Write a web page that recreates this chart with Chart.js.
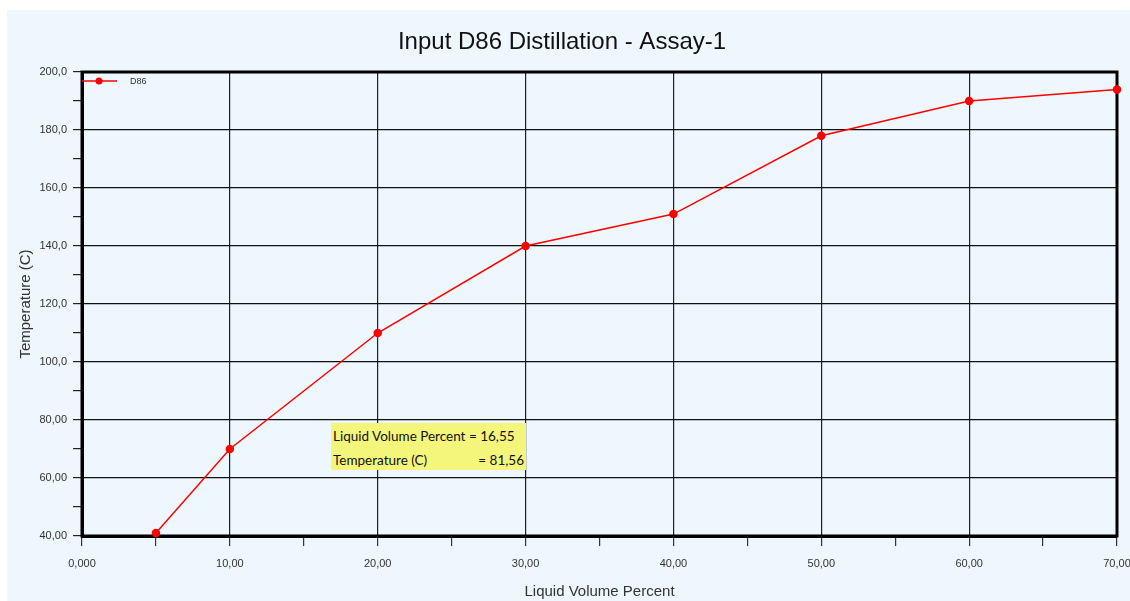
<!DOCTYPE html>
<html>
<head>
<meta charset="utf-8">
<script src="https://cdn.jsdelivr.net/npm/chart.js@4"></script>
<style>
  html, body { margin: 0; padding: 0; background: #ffffff; overflow: hidden; }
  #wrap { position: absolute; left: 7px; top: 10px; width: 1135px; height: 591px; background: #eef6fe; }
  #note {
    position: absolute; left: 331px; top: 423px; width: 195px; height: 47px;
    background: #f4f67c; font-family: Lato, sans-serif; font-size: 13.5px; color: #111;
    box-sizing: border-box; padding: 1px 2px 0 2px; line-height: 24px;
  }
  #note div { display: flex; justify-content: space-between; }
</style>
</head>
<body>
<div id="wrap"><canvas id="chart" width="1135" height="591"></canvas></div>
<div id="note">
  <div><span>Liquid Volume Percent = 16,55</span></div>
  <div><span>Temperature (C)</span><span>= 81,56</span></div>
</div>
<script>
// donnees
const volumePercent = [5, 10, 20, 30, 40, 50, 60, 70];
const temperature = [41, 70, 110, 140, 151, 178, 190, 194];
const xRange = [0, 70];
const yRange = [40, 200];

// format "200,0" / "80,00" / "0,000"
function fmt(v) {
    return Number(v).toPrecision(4).replace(".", ",");
}

// cadre haut/droite du graphique
const frame = {
    id: "frame",
    beforeDatasetsDraw(chart) {
        const a = chart.chartArea, ctx = chart.ctx;
        ctx.save();
        ctx.strokeStyle = "#000";
        ctx.lineWidth = 3;
        ctx.strokeRect(a.left, a.top, a.right - a.left, a.bottom - a.top);
        ctx.restore();
    }
};

// legende dans le coin haut gauche
const legendBox = {
    id: "legendBox",
    afterDraw(chart) {
        const a = chart.chartArea, ctx = chart.ctx;
        const ds = chart.data.datasets[0];
        const y = a.top + 9;
        ctx.save();
        ctx.strokeStyle = ds.borderColor;
        ctx.lineWidth = 1.5;
        ctx.beginPath();
        ctx.moveTo(a.left, y);
        ctx.lineTo(a.left + 35, y);
        ctx.stroke();
        ctx.fillStyle = ds.borderColor;
        ctx.beginPath();
        ctx.arc(a.left + 17, y, 3.5, 0, Math.PI * 2);
        ctx.fill();
        ctx.fillStyle = "#333";
        ctx.font = "9px 'Liberation Sans'";
        ctx.textBaseline = "middle";
        ctx.fillText(ds.label, a.left + 48, y + 1);
        ctx.restore();
    }
};

let ctx = document.getElementById("chart").getContext("2d");
let chart = new Chart(ctx, {
    type: "line",
    data: {
        datasets: [{
            label: "D86",
            data: volumePercent.map((x, i) => ({ x: x, y: temperature[i] })),
            borderColor: "#ff0000",
            backgroundColor: "#ff0000",
            borderWidth: 1.5,
            pointRadius: 3.5,
            pointHoverRadius: 3.5,
            tension: 0,
            clip: false
        }]
    },
    options: {
        responsive: false,
        animation: false,
        layout: { padding: { left: 0, right: 25, top: 0, bottom: 0 } },
        plugins: {
            legend: { display: false },
            tooltip: { enabled: false },
            title: {
                display: true,
                text: "Input D86 Distillation - Assay-1",
                color: "#111",
                font: { family: "'Liberation Sans'", size: 24, weight: "normal" },
                padding: { top: 17.6, bottom: 15.6 }
            }
        },
        scales: {
            x: {
                type: "linear",
                min: xRange[0],
                max: xRange[1],
                afterFit: s => { s.height = 65; },
                border: { display: true, color: "#000", width: 3 },
                grid: {
                    color: c => (c.tick && c.tick.value % 10 === 0) ? "#222" : "rgba(0,0,0,0)",
                    tickColor: "#333",
                    tickLength: 10,
                    lineWidth: 1.2
                },
                ticks: {
                    stepSize: 5,
                    padding: 11,
                    maxRotation: 0,
                    color: "#333",
                    font: { family: "'Liberation Sans'", size: 11 },
                    callback: v => v % 10 === 0 ? fmt(v) : ""
                },
                title: {
                    display: true,
                    text: "Liquid Volume Percent",
                    color: "#333",
                    font: { family: "'Liberation Sans'", size: 15 },
                    padding: { top: 0, bottom: 0 }
                }
            },
            y: {
                min: yRange[0],
                max: yRange[1],
                afterFit: s => { s.width = 75; },
                border: { display: true, color: "#000", width: 3 },
                grid: {
                    color: c => (c.tick && c.tick.value % 20 === 0) ? "#111" : "rgba(0,0,0,0)",
                    tickColor: "#222",
                    tickLength: 9,
                    lineWidth: 1.2
                },
                ticks: {
                    stepSize: 10,
                    padding: 6,
                    color: "#333",
                    font: { family: "'Liberation Sans'", size: 11 },
                    callback: v => v % 20 === 0 ? fmt(v) : ""
                },
                title: {
                    display: true,
                    text: "Temperature (C)",
                    color: "#333",
                    font: { family: "'Liberation Sans'", size: 15 },
                    padding: { top: 10, bottom: 0 }
                }
            }
        }
    },
    plugins: [frame, legendBox]
});
</script>
</body>
</html>
